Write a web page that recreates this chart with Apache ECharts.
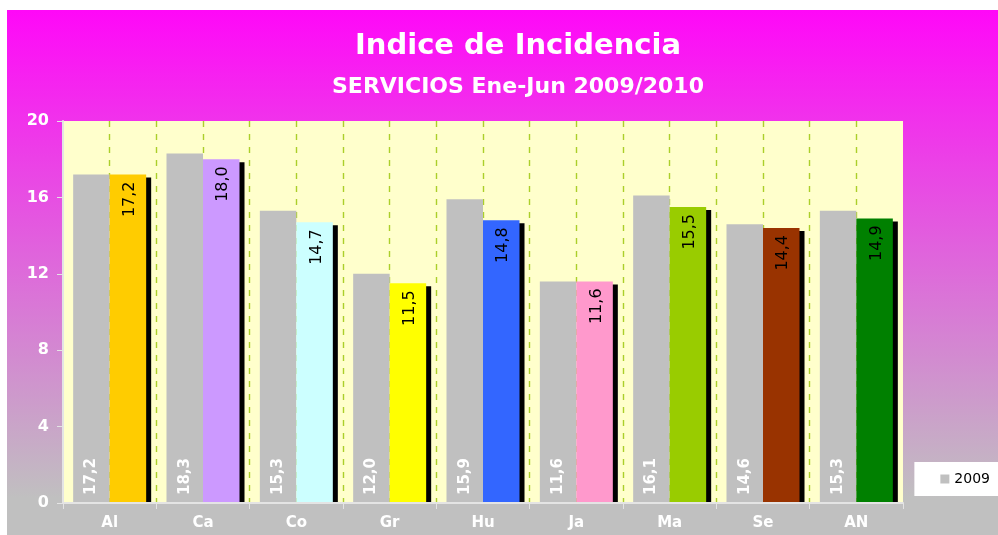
<!DOCTYPE html>
<html>
<head>
<meta charset="utf-8">
<script src="https://cdn.jsdelivr.net/npm/echarts@6/dist/echarts.min.js"></script>
<style>
  html, body { margin: 0; padding: 0; background: #fff; }
  #main { width: 998px; height: 535px; }
</style>
</head>
<body>
<div id="main"></div>
<script>
var categories = ['Al', 'Ca', 'Co', 'Gr', 'Hu', 'Ja', 'Ma', 'Se', 'AN'];
var values2009 = [17.2, 18.3, 15.3, 12.0, 15.9, 11.6, 16.1, 14.6, 15.3];
var values2010 = [17.2, 18.0, 14.7, 11.5, 14.8, 11.6, 15.5, 14.4, 14.9];
var colors2010 = ['#FFCC00', '#CC99FF', '#CCFFFF', '#FFFF00', '#3366FF', '#FF99CC', '#99CC00', '#993300', '#008000'];
var yTicks = [0, 4, 8, 12, 16, 20];

var chart = echarts.init(document.getElementById('main'));
var font = 'DejaVu Sans, Verdana, sans-serif';

function fmt(p) {
    return p.value.toFixed(1).replace('.', ',');
}

var option = {
    backgroundColor: '#fff',
    animation: false,
    graphic: [{
        // frame background
        type: 'rect',
        z: -100,
        silent: true,
        shape: { x: 7, y: 10, width: 991, height: 525 },
        style: {
            fill: new echarts.graphic.LinearGradient(0, 0, 0, 1, [
                { offset: 0, color: '#FF08F8' },
                { offset: 0.93, color: '#C0C0C0' },
                { offset: 1, color: '#C0C0C0' }
            ])
        }
    }, {
        // hides the bar shadow below the axis
        type: 'rect',
        z: 3,
        silent: true,
        shape: { x: 63, y: 503, width: 845, height: 7 },
        style: { fill: '#C0C0C0' }
    }],
    title: {
        text: 'Indice de Incidencia',
        subtext: 'SERVICIOS Ene-Jun 2009/2010',
        left: 518,
        top: 32,
        padding: 0,
        textAlign: 'center',
        itemGap: 15,
        textStyle: { color: '#fff', fontSize: 29, fontWeight: 'bold', fontFamily: font },
        subtextStyle: { color: '#fff', fontSize: 22, fontWeight: 'bold', fontFamily: font }
    },
    legend: {
        data: ['2009'],
        right: 0,
        top: 462,
        backgroundColor: '#fff',
        padding: [10, 8, 10, 26],
        itemWidth: 9,
        itemHeight: 9,
        itemGap: 5,
        icon: 'rect',
        textStyle: { color: '#000', fontSize: 14, fontFamily: font }
    },
    grid: {
        left: 63, right: 95, top: 121, bottom: 32,
        show: true,
        backgroundColor: '#FFFFCC',
        borderWidth: 0
    },
    xAxis: [{
        type: 'category',
        data: categories,
        z: 5,
        axisLine: { lineStyle: { color: '#E4E4E4', width: 2 } },
        axisTick: { show: true, length: 6, lineStyle: { color: '#E4E4E4' } },
        axisLabel: { color: '#fff', fontSize: 15, fontWeight: 'bold', fontFamily: font, margin: 13 },
        splitLine: { show: false }
    }, {
        type: 'value',
        min: 0,
        max: 18,
        interval: 1,
        position: 'bottom',
        axisLine: { show: false },
        axisTick: { show: false },
        axisLabel: { show: false },
        splitLine: {
            show: true,
            showMinLine: false,
            showMaxLine: false,
            lineStyle: { color: '#ABCF2A', type: [6, 7], width: 1.4 }
        }
    }],
    yAxis: {
        type: 'value',
        min: 0,
        max: 20,
        interval: 4,
        z: 5,
        axisLine: { show: true, lineStyle: { color: '#E4E4E4', width: 2 } },
        axisTick: { show: true, length: 6, lineStyle: { color: '#E4E4E4' } },
        axisLabel: {
            color: '#fff', fontSize: 16, fontWeight: 'bold', fontFamily: font, margin: 14,
            customValues: yTicks
        },
        splitLine: { show: false }
    },
    series: [{
        name: '2009',
        type: 'bar',
        barWidth: 36.5,
        barGap: '0%',
        data: values2009,
        itemStyle: { color: '#C0C0C0' },
        label: {
            show: true,
            position: 'insideBottom',
            distance: 8,
            rotate: 90,
            align: 'left',
            verticalAlign: 'middle',
            color: '#fff',
            fontSize: 15,
            fontWeight: 'bold',
            fontFamily: font,
            formatter: fmt
        }
    }, {
        name: '2010',
        type: 'bar',
        barWidth: 36.5,
        barGap: '0%',
        data: values2010.map(function (v, i) {
            return { value: v, itemStyle: { color: colors2010[i] } };
        }),
        itemStyle: {
            shadowColor: '#000',
            shadowBlur: 0,
            shadowOffsetX: 5,
            shadowOffsetY: 3
        },
        label: {
            show: true,
            position: 'insideTop',
            distance: 7,
            rotate: 90,
            align: 'right',
            verticalAlign: 'middle',
            color: '#000',
            fontSize: 16,
            fontFamily: font,
            offset: [0, 2],
            formatter: fmt
        }
    }]
};

chart.setOption(option);
</script>
</body>
</html>
